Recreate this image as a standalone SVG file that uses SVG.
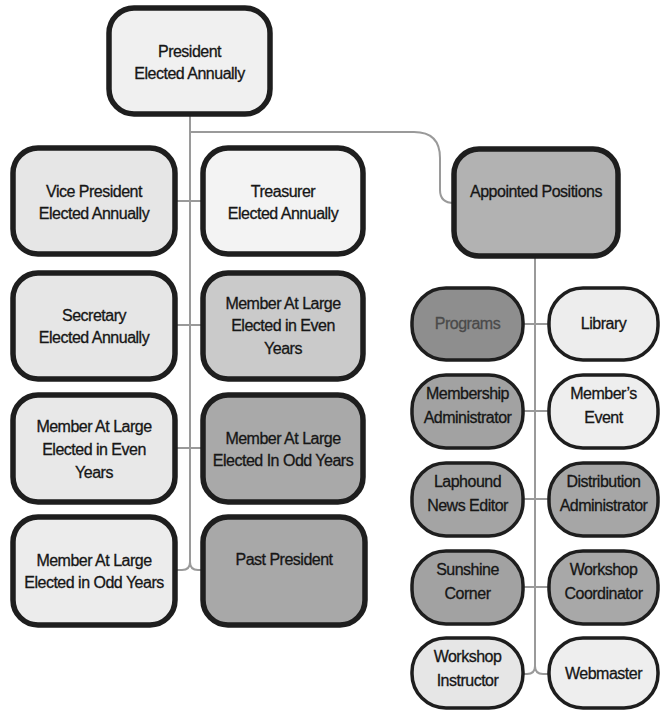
<svg xmlns="http://www.w3.org/2000/svg" width="662" height="710" viewBox="0 0 662 710">
<style>
.bg{fill:#ffffff}
.big{stroke:#1e1e1e;stroke-width:5.5}
.small{stroke:#1e1e1e;stroke-width:3.5}
.t{font-family:"Liberation Sans",Arial,sans-serif;font-size:16px;letter-spacing:-0.5px;fill:#161616;stroke:#161616;stroke-width:0.3;text-anchor:middle}
.dim{fill:#4a4a4a;stroke:#4a4a4a}
.conn{fill:none;stroke:#9a9a9a;stroke-width:2}
</style>
<rect class="bg" x="0" y="0" width="662" height="710"/>
<g id="connectors">
<path class="conn" d="M190 114 V562 Q190 570 182 570 H175 M190 562 Q190 570 198 570 H203"/>
<path class="conn" d="M175 201 H203 M175 325 H203 M175 448 H203"/>
<path class="conn" d="M190 132 H414 Q440 132 440 158 V190 Q440 203 454 203"/>
<path class="conn" d="M535 257 V666 Q535 674 527 674 H523 M535 666 Q535 674 543 674 H549"/>
<path class="conn" d="M523 324 H549 M523 411 H549 M523 499 H549 M523 587 H549"/>
</g>
<g id="president"><rect class="big" x="109" y="8" width="161" height="106" rx="25" fill="#f0f0f0"/><text class="t" x="189.5" y="57">President</text><text class="t" x="189.5" y="79">Elected Annually</text></g>
<g id="vice-president"><rect class="big" x="13" y="148" width="162" height="106" rx="25" fill="#e6e6e6"/><text class="t" x="94" y="197">Vice President</text><text class="t" x="94" y="219">Elected Annually</text></g>
<g id="treasurer"><rect class="big" x="203" y="148" width="160" height="106" rx="25" fill="#f3f3f3"/><text class="t" x="283" y="197">Treasurer</text><text class="t" x="283" y="219">Elected Annually</text></g>
<g id="secretary"><rect class="big" x="13" y="273" width="162" height="106" rx="25" fill="#e6e6e6"/><text class="t" x="94" y="321">Secretary</text><text class="t" x="94" y="343">Elected Annually</text></g>
<g id="mal-even-right"><rect class="big" x="203" y="273" width="160" height="106" rx="25" fill="#cacaca"/><text class="t" x="283" y="309">Member At Large</text><text class="t" x="283" y="331">Elected in Even</text><text class="t" x="283" y="354">Years</text></g>
<g id="mal-even-left"><rect class="big" x="13" y="395" width="162" height="107" rx="25" fill="#e8e8e8"/><text class="t" x="94" y="432">Member At Large</text><text class="t" x="94" y="455">Elected in Even</text><text class="t" x="94" y="478">Years</text></g>
<g id="mal-odd-right"><rect class="big" x="203" y="395" width="160" height="107" rx="25" fill="#a9a9a9"/><text class="t" x="283" y="444">Member At Large</text><text class="t" x="283" y="466">Elected In Odd Years</text></g>
<g id="mal-odd-left"><rect class="big" x="13" y="517" width="162" height="108" rx="25" fill="#ececec"/><text class="t" x="94" y="566">Member At Large</text><text class="t" x="94" y="588">Elected in Odd Years</text></g>
<g id="past-president"><rect class="big" x="203" y="517" width="162" height="108" rx="25" fill="#a8a8a8"/><text class="t" x="284" y="565">Past President</text></g>
<g id="appointed"><rect class="big" x="454" y="149" width="164" height="107" rx="25" fill="#b2b2b2"/><text class="t" x="536" y="197">Appointed Positions</text></g>
<g id="programs"><rect class="small" x="412" y="288" width="111" height="72" rx="34" fill="#8e8e8e"/><text class="t dim" x="467.5" y="329">Programs</text></g>
<g id="library"><rect class="small" x="549" y="288" width="109" height="72" rx="34" fill="#ededed"/><text class="t" x="603.5" y="329">Library</text></g>
<g id="membership"><rect class="small" x="412" y="375" width="111" height="73" rx="34" fill="#a2a2a2"/><text class="t" x="467.5" y="399">Membership</text><text class="t" x="467.5" y="423">Administrator</text></g>
<g id="members-event"><rect class="small" x="549" y="375" width="109" height="73" rx="34" fill="#eeeeee"/><text class="t" x="603.5" y="399">Member’s</text><text class="t" x="603.5" y="423">Event</text></g>
<g id="laphound"><rect class="small" x="412" y="463" width="111" height="73" rx="34" fill="#a4a4a4"/><text class="t" x="467.5" y="487">Laphound</text><text class="t" x="467.5" y="511">News Editor</text></g>
<g id="distribution"><rect class="small" x="549" y="463" width="109" height="73" rx="34" fill="#a6a6a6"/><text class="t" x="603.5" y="487">Distribution</text><text class="t" x="603.5" y="511">Administrator</text></g>
<g id="sunshine"><rect class="small" x="412" y="551" width="111" height="73" rx="34" fill="#a2a2a2"/><text class="t" x="467.5" y="575">Sunshine</text><text class="t" x="467.5" y="599">Corner</text></g>
<g id="workshop-coordinator"><rect class="small" x="549" y="551" width="109" height="73" rx="34" fill="#a8a8a8"/><text class="t" x="603.5" y="575">Workshop</text><text class="t" x="603.5" y="599">Coordinator</text></g>
<g id="workshop-instructor"><rect class="small" x="412" y="638" width="111" height="70" rx="34" fill="#e6e6e6"/><text class="t" x="467.5" y="662">Workshop</text><text class="t" x="467.5" y="686">Instructor</text></g>
<g id="webmaster"><rect class="small" x="549" y="638" width="109" height="70" rx="34" fill="#eeeeee"/><text class="t" x="603.5" y="679">Webmaster</text></g>
</svg>
